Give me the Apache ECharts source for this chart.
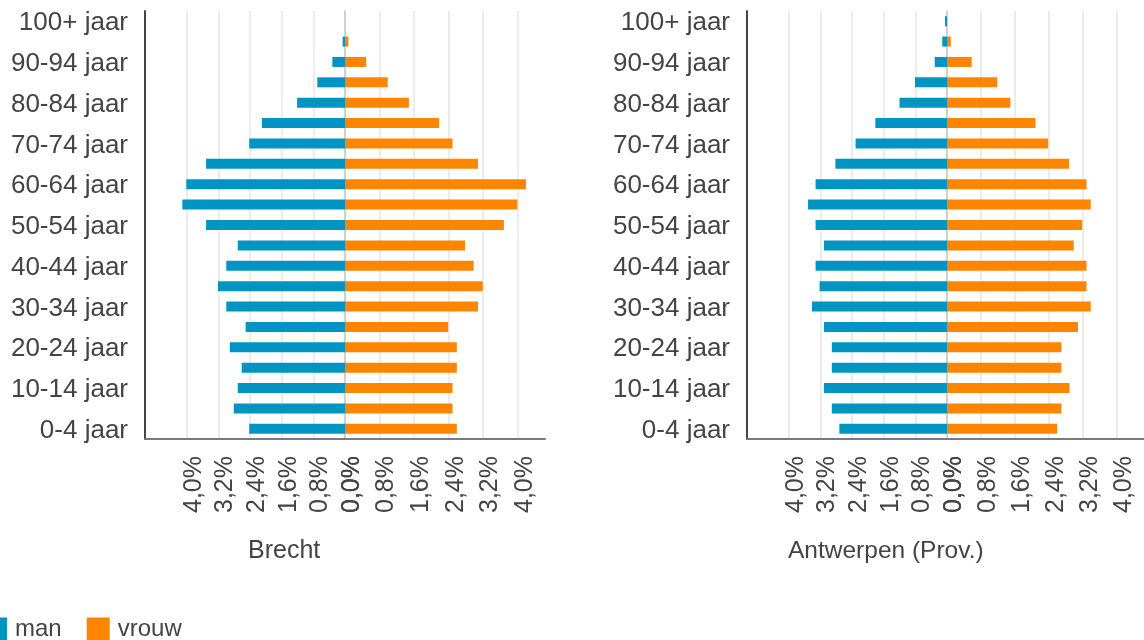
<!DOCTYPE html>
<html>
<head>
<meta charset="utf-8">
<script src="https://cdn.jsdelivr.net/npm/echarts@6/dist/echarts.min.js"></script>
<style>
  html, body { margin: 0; padding: 0; background: #fff; }
  #chart { width: 1144px; height: 640px; }
</style>
</head>
<body>
<div id="chart"></div>
<script>
// age groups, bottom to top
const ageGroups = ['0-4 jaar', '5-9 jaar', '10-14 jaar', '15-19 jaar', '20-24 jaar',
  '25-29 jaar', '30-34 jaar', '35-39 jaar', '40-44 jaar', '45-49 jaar', '50-54 jaar',
  '55-59 jaar', '60-64 jaar', '65-69 jaar', '70-74 jaar', '75-79 jaar', '80-84 jaar',
  '85-89 jaar', '90-94 jaar', '95-99 jaar', '100+ jaar'];

// share of total population (%)
const brechtMan = [2.42, 2.81, 2.71, 2.61, 2.91, 2.51, 3.00, 3.21, 3.00, 2.71, 3.51,
  4.11, 4.01, 3.51, 2.42, 2.10, 1.21, 0.70, 0.32, 0.06, 0];
const brechtVrouw = [2.59, 2.49, 2.49, 2.59, 2.59, 2.39, 3.08, 3.19, 2.98, 2.78, 3.68,
  3.99, 4.19, 3.08, 2.49, 2.18, 1.48, 0.99, 0.49, 0.08, 0];
const antwerpenMan = [2.72, 2.91, 3.11, 2.91, 2.91, 3.11, 3.41, 3.22, 3.32, 3.11, 3.32,
  3.51, 3.32, 2.82, 2.31, 1.81, 1.20, 0.81, 0.31, 0.12, 0.05];
const antwerpenVrouw = [2.59, 2.69, 2.88, 2.69, 2.69, 3.08, 3.38, 3.28, 3.28, 2.98, 3.18,
  3.38, 3.28, 2.87, 2.38, 2.08, 1.49, 1.18, 0.58, 0.09, 0];

const tickValues = [0, 0.8, 1.6, 2.4, 3.2, 4.0];
const regions = ['Brecht', 'Antwerpen (Prov.)'];

const blue = '#0094c3';
const orange = '#fd8500';
const txt = '#444';
const font = 'Liberation Sans';

const chart = echarts.init(document.getElementById('chart'));

// two grids per pyramid: men (mirrored) and women
const gridTop = 11, gridHeight = 428;
const grids = [
  { left: 145, top: gridTop, width: 200, height: gridHeight },
  { left: 345, top: gridTop, width: 200, height: gridHeight },
  { left: 747, top: gridTop, width: 200, height: gridHeight },
  { left: 947, top: gridTop, width: 200, height: gridHeight }
];

function pct(v) {
  return v.toFixed(1).replace('.', ',') + '%';
}

function xAxis(idx, men) {
  return {
    type: 'value',
    gridIndex: idx,
    min: 0,
    max: men ? 5.053 : 4.632,
    inverse: men,
    axisLine: { show: true, onZero: false, lineStyle: { color: '#7a7a7a', width: 2 } },
    axisTick: { show: false, customValues: tickValues },
    axisLabel: {
      customValues: tickValues,
      rotate: 90,
      margin: 17,
      verticalAlign: 'top',
      lineHeight: 14,
      fontSize: 25,
      color: txt,
      fontFamily: font,
      formatter: pct
    },
    splitLine: { show: true, lineStyle: { color: '#e6e6e6', width: 1.5 } }
  };
}

function yAxis(idx, men) {
  if (men) {
    return {
      type: 'category',
      gridIndex: idx,
      data: ageGroups,
      axisLine: { show: true, onZero: false, lineStyle: { color: '#444', width: 2 } },
      axisTick: { show: false },
      axisLabel: { interval: 1, margin: 17, fontSize: 26, verticalAlign: 'top', lineHeight: 4,
        color: txt, fontFamily: font }
    };
  }
  return {
    type: 'category',
    gridIndex: idx,
    data: ageGroups,
    axisLine: { show: true, onZero: false, lineStyle: { color: '#c8c8c8', width: 1.5 } },
    axisTick: { show: false },
    axisLabel: { show: false }
  };
}

function bar(name, idx, data, color) {
  return {
    name: name,
    type: 'bar',
    xAxisIndex: idx,
    yAxisIndex: idx,
    data: data,
    barWidth: 10,
    itemStyle: { color: color },
    silent: true
  };
}

chart.setOption({
  animation: false,
  textStyle: { fontFamily: font },
  title: [
    { text: regions[0], left: 248, top: 539, padding: 0,
      textStyle: { fontSize: 25, fontWeight: 'normal', color: txt, fontFamily: font } },
    { text: regions[1], left: 788, top: 539, padding: 0,
      textStyle: { fontSize: 24.5, fontWeight: 'normal', color: txt, fontFamily: font } }
  ],
  legend: {
    data: ['man', 'vrouw'],
    left: -16,
    top: 617,
    padding: 0,
    icon: 'rect',
    itemWidth: 23,
    itemHeight: 23,
    itemGap: 25,
    textStyle: { fontSize: 24, color: txt, fontFamily: font, padding: [0, 0, 0, 3] }
  },
  grid: grids,
  xAxis: [xAxis(0, true), xAxis(1, false), xAxis(2, true), xAxis(3, false)],
  yAxis: [yAxis(0, true), yAxis(1, false), yAxis(2, true), yAxis(3, false)],
  series: [
    bar('man', 0, brechtMan, blue),
    bar('vrouw', 1, brechtVrouw, orange),
    bar('man', 2, antwerpenMan, blue),
    bar('vrouw', 3, antwerpenVrouw, orange)
  ]
});
</script>
</body>
</html>
